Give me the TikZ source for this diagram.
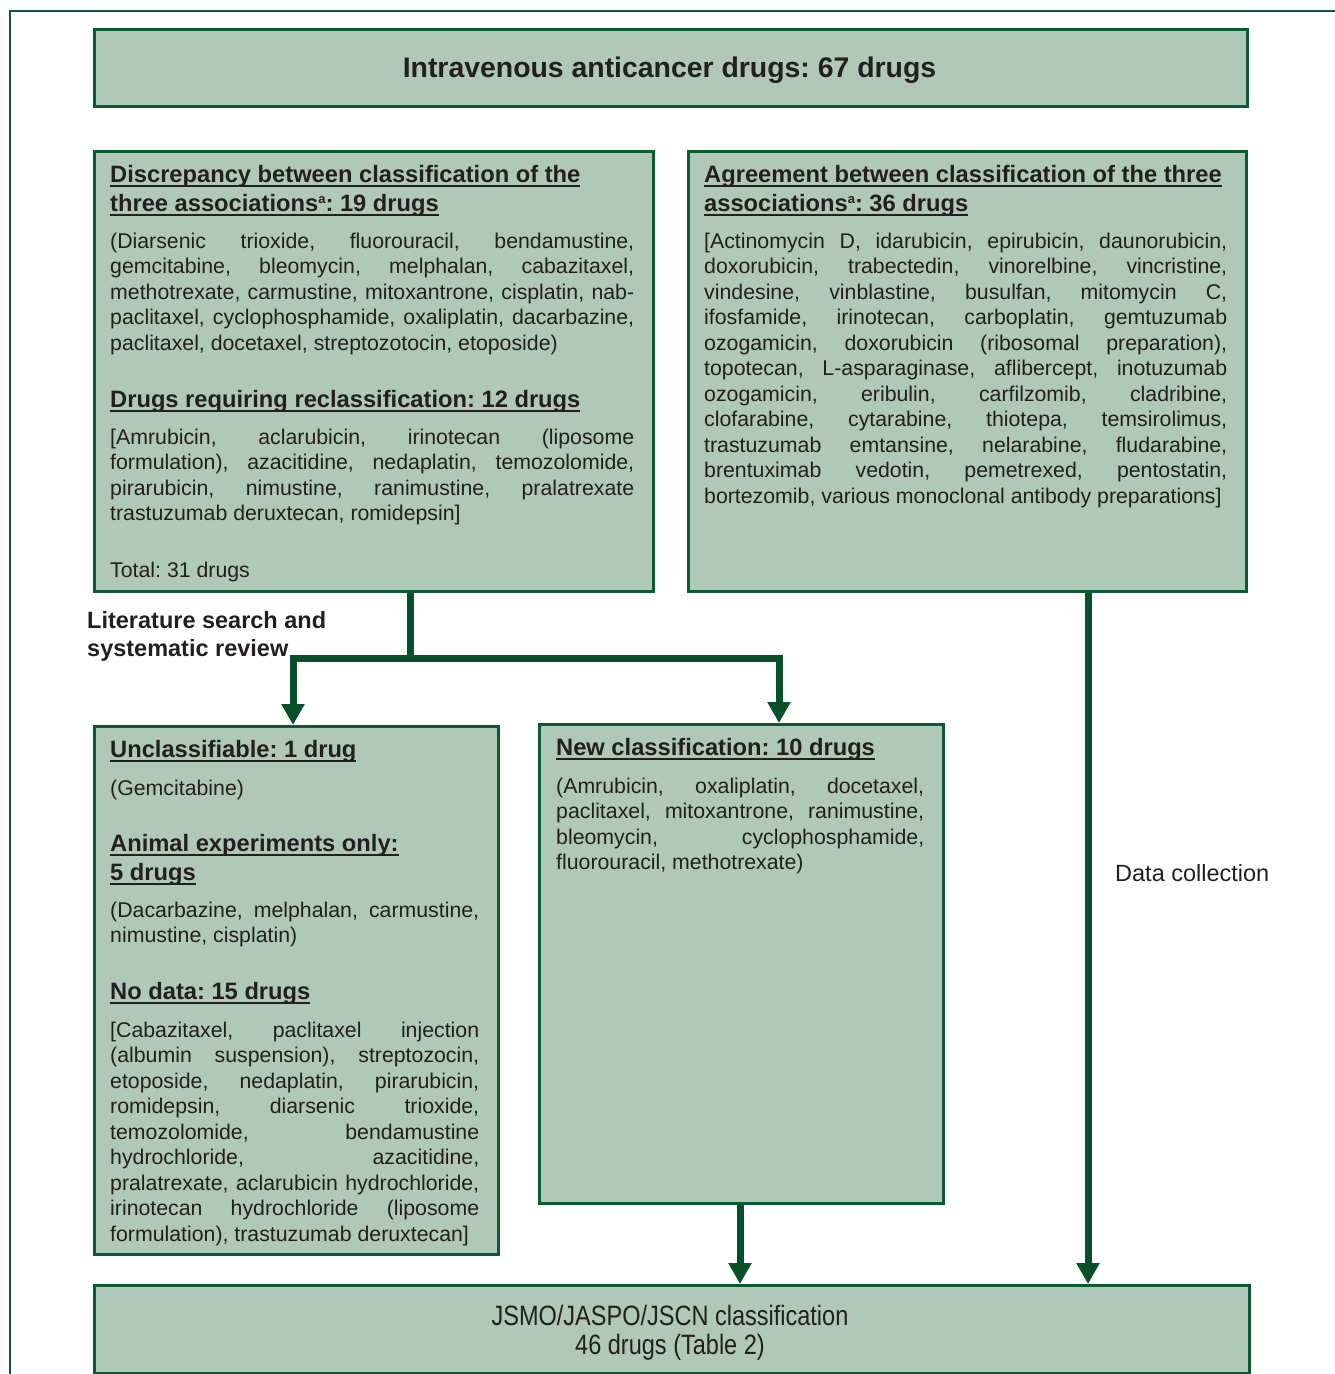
\documentclass[tikz,border=0pt]{standalone}
\usepackage{fontspec}
\setmainfont{Liberation Sans}
\newfontfamily\narrowfont{Liberation Sans}[FakeStretch=0.84]
\usetikzlibrary{arrows.meta}
\definecolor{boxfill}{HTML}{B0C8B8}
\definecolor{boxline}{HTML}{0B5A32}
\definecolor{flowcol}{HTML}{08502A}
\definecolor{txtcol}{HTML}{231F20}
\newsavebox\ulsave
\newcommand\ulx[1]{\sbox\ulsave{#1}\rlap{\rule[-4.5pt]{\wd\ulsave}{1.8pt}}\usebox\ulsave}
\newcommand\jl[2]{\makebox[#1][s]{#2}}
\newcommand\supa{\raisebox{8pt}{\fontsize{13}{13}\selectfont a}}
\frenchspacing
\begin{document}
\frenchspacing
\begin{tikzpicture}[x=1pt,y=-1pt,
  box/.style={draw=boxline, line width=2.5pt, fill=boxfill, inner sep=0pt, anchor=north west},
  body/.style={anchor=base west, inner sep=0pt, text=txtcol, font=\fontsize{21.3}{25.5}\selectfont},
  head/.style={anchor=base west, inner sep=0pt, text=txtcol, font=\fontsize{23.7}{29}\selectfont\bfseries},
  flow/.style={draw=flowcol, line width=7pt},
  tip/.style={-{Triangle[width=22pt,length=21pt]}}]
\useasboundingbox (0,0) rectangle (1335,1374);
% outer frame (partly visible)
\draw[boxline, line width=2pt] (10,1374) -- (10,11) -- (1335,11);
% boxes
\node[box, minimum width=1153pt, minimum height=77pt] (title) at (93,28) {};
\node[box, minimum width=559pt, minimum height=440pt] (A) at (93,150) {};
\node[box, minimum width=558pt, minimum height=440pt] (B) at (687,150) {};
\node[box, minimum width=404pt, minimum height=528pt] (C) at (93,725) {};
\node[box, minimum width=404pt, minimum height=479pt] (D) at (538,723) {};
\node[box, minimum width=1155pt, minimum height=88pt] (bot) at (93,1284) {};
% title
\node[anchor=base, inner sep=0pt, text=txtcol, font=\fontsize{28.4}{34}\selectfont\bfseries] (tt) at (669.5,77) {Intravenous anticancer drugs: 67 drugs};
% box A
\node[head] (ah1) at (110,182) {\ulx{Discrepancy between classification of the}};
\node[head] (ah2) at (110,211) {\ulx{three associations\supa: 19 drugs}};
\foreach \t [count=\i] in {
  {\jl{524pt}{(Diarsenic trioxide, fluorouracil, bendamustine,}},
  {\jl{524pt}{gemcitabine, bleomycin, melphalan, cabazitaxel,}},
  {\jl{524pt}{methotrexate, carmustine, mitoxantrone, cisplatin, nab-}},
  {\jl{524pt}{paclitaxel, cyclophosphamide, oxaliplatin, dacarbazine,}},
  {paclitaxel, docetaxel, streptozotocin, etoposide)}}
  \node[body] (ab\i) at (110,{248+25.5*(\i-1)}) {\t};
\node[head] (ah3) at (110,407) {\ulx{Drugs requiring reclassification: 12 drugs}};
\foreach \t [count=\i] in {
  {\jl{524pt}{[Amrubicin, aclarubicin, irinotecan (liposome}},
  {\jl{524pt}{formulation), azacitidine, nedaplatin, temozolomide,}},
  {\jl{524pt}{pirarubicin, nimustine, ranimustine, pralatrexate}},
  {trastuzumab deruxtecan, romidepsin]}}
  \node[body] (ar\i) at (110,{444+25.5*(\i-1)}) {\t};
\node[body] (atot) at (110,577) {Total: 31 drugs};
% box B
\node[head] (bh1) at (704,182) {\ulx{Agreement between classification of the three}};
\node[head] (bh2) at (704,211) {\ulx{associations\supa: 36 drugs}};
\foreach \t [count=\i] in {
  {\jl{523pt}{[Actinomycin D, idarubicin, epirubicin, daunorubicin,}},
  {\jl{523pt}{doxorubicin, trabectedin, vinorelbine, vincristine,}},
  {\jl{523pt}{vindesine, vinblastine, busulfan, mitomycin C,}},
  {\jl{523pt}{ifosfamide, irinotecan, carboplatin, gemtuzumab}},
  {\jl{523pt}{ozogamicin, doxorubicin (ribosomal preparation),}},
  {\jl{523pt}{topotecan, L-asparaginase, aflibercept, inotuzumab}},
  {\jl{523pt}{ozogamicin, eribulin, carfilzomib, cladribine,}},
  {\jl{523pt}{clofarabine, cytarabine, thiotepa, temsirolimus,}},
  {\jl{523pt}{trastuzumab emtansine, nelarabine, fludarabine,}},
  {\jl{523pt}{brentuximab vedotin, pemetrexed, pentostatin,}},
  {bortezomib, various monoclonal antibody preparations]}}
  \node[body] (bb\i) at (704,{248+25.5*(\i-1)}) {\t};
% box C
\node[head] (ch1) at (110,757) {\ulx{Unclassifiable: 1 drug}};
\node[body] (cb1) at (110,795) {(Gemcitabine)};
\node[head] (ch2) at (110,851) {\ulx{Animal experiments only:}};
\node[head] (ch3) at (110,880) {\ulx{5 drugs}};
\node[body] (cb2) at (110,917) {\jl{369pt}{(Dacarbazine, melphalan, carmustine,}};
\node[body] (cb3) at (110,942.5) {nimustine, cisplatin)};
\node[head] (ch4) at (110,999) {\ulx{No data: 15 drugs}};
\foreach \t [count=\i] in {
  {\jl{369pt}{[Cabazitaxel, paclitaxel injection}},
  {\jl{369pt}{(albumin suspension), streptozocin,}},
  {\jl{369pt}{etoposide, nedaplatin, pirarubicin,}},
  {\jl{369pt}{romidepsin, diarsenic trioxide,}},
  {\jl{369pt}{temozolomide, bendamustine}},
  {\jl{369pt}{hydrochloride, azacitidine,}},
  {\jl{369pt}{pralatrexate, aclarubicin hydrochloride,}},
  {\jl{369pt}{irinotecan hydrochloride (liposome}},
  {formulation), trastuzumab deruxtecan]}}
  \node[body] (cn\i) at (110,{1037+25.5*(\i-1)}) {\t};
% box D
\node[head] (dh1) at (556,755) {\ulx{New classification: 10 drugs}};
\foreach \t [count=\i] in {
  {\jl{368pt}{(Amrubicin, oxaliplatin, docetaxel,}},
  {\jl{368pt}{paclitaxel, mitoxantrone, ranimustine,}},
  {\jl{368pt}{bleomycin, cyclophosphamide,}},
  {fluorouracil, methotrexate)}}
  \node[body] (db\i) at (556,{793+25.5*(\i-1)}) {\t};
% bottom box text
\node[anchor=base, inner sep=0pt, text=txtcol, font=\narrowfont\fontsize{28}{29}\selectfont] (bt1) at (670,1325) {JSMO/JASPO/JSCN classification};
\node[anchor=base, inner sep=0pt, text=txtcol, font=\narrowfont\fontsize{28}{29}\selectfont] (bt2) at (670,1354) {46 drugs (Table 2)};
% labels
\node[anchor=base west, inner sep=0pt, text=txtcol, font=\fontsize{23.5}{28}\selectfont\bfseries] (lit1) at (87,628) {Literature search and};
\node[anchor=base west, inner sep=0pt, text=txtcol, font=\fontsize{23.5}{28}\selectfont\bfseries] (lit2) at (87,656) {systematic review};
\node[anchor=base west, inner sep=0pt, text=txtcol, font=\fontsize{23.5}{28}\selectfont] (dc) at (1115,881) {Data collection};
% connectors
\coordinate (j) at (410,658);
\coordinate (cl) at (293,658);
\coordinate (cr) at (779,658);
\coordinate (dx) at (740,1240);
\coordinate (bx) at (1088,1240);
\draw[flow] (A.south -| j) -- ([yshift=-3.5pt]j);
\draw[flow,tip] (j) -| (C.north -| cl);
\draw[flow,tip] (j) -| (D.north -| cr);
\draw[flow,tip] (D.south -| dx) -- (bot.north -| dx);
\draw[flow,tip] (B.south -| bx) -- (bot.north -| bx);
\end{tikzpicture}
\end{document}
